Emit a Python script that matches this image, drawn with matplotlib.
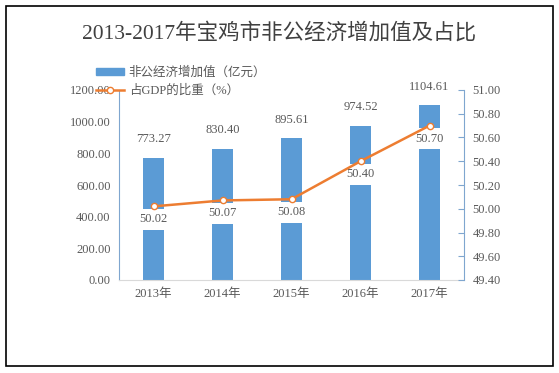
import matplotlib.pyplot as plt
from matplotlib.patches import Rectangle

years = ['2013年', '2014年', '2015年', '2016年', '2017年']
value_added = [773.27, 830.40, 895.61, 974.52, 1104.61]
gdp_share = [50.02, 50.07, 50.08, 50.40, 50.70]

fonts = ['Liberation Serif', 'Noto Sans CJK SC']
plt.rcParams['font.family'] = fonts

blue = '#5B9BD5'
orange = '#ED7D31'
grey = '#595959'

fig = plt.figure(figsize=(5.59, 3.73), dpi=100)
fig.patches.append(Rectangle((6 / 559, 7 / 373), 547 / 559, 360 / 373, transform=fig.transFigure,
                             fill=False, edgecolor='black', linewidth=1.2))

ax = fig.add_axes([119 / 559, 93 / 373, 345 / 559, 190 / 373])
x = range(len(years))
ax.bar(x, value_added, width=0.3, color=blue, zorder=1)
ax.set_ylim(0, 1200)
ax.set_yticks(range(0, 1201, 200))
ax.set_yticklabels(['%.2f' % v for v in range(0, 1201, 200)])
ax.set_xlim(-0.5, 4.5)
ax.set_xticks(list(x))
ax.set_xticklabels(years)
ax.tick_params(axis='both', length=0, labelsize=9, labelcolor=grey, pad=6)
for s in ['top', 'right']:
    ax.spines[s].set_visible(False)
ax.spines['left'].set_color('#7FA6CF')
ax.spines['bottom'].set_color('#D9D9D9')

for i, v in enumerate(value_added):
    ax.annotate('%.2f' % v, (i, v), xytext=(0, 9), textcoords='offset points',
                ha='center', va='bottom', fontsize=9, color=grey)

ax2 = ax.twinx()
ax2.plot(x, gdp_share, color=orange, linewidth=1.8, marker='o', markersize=4.5,
         markerfacecolor='white', markeredgecolor=orange, zorder=3)
ax2.set_ylim(49.4, 51.0)
ax2.set_yticks([49.4 + 0.2 * k for k in range(9)])
ax2.set_yticklabels(['%.2f' % (49.4 + 0.2 * k) for k in range(9)])
ax2.tick_params(axis='y', direction='in', length=4, color='#7FA6CF', labelsize=9, labelcolor=grey, pad=6)
for s in ['top', 'left', 'bottom']:
    ax2.spines[s].set_visible(False)
ax2.spines['right'].set_color('#7FA6CF')

for i, v in enumerate(gdp_share):
    ax2.annotate('%.2f' % v, (i, v), xytext=(0, -5), textcoords='offset points',
                 ha='center', va='top', fontsize=9, color=grey, zorder=2,
                 bbox=dict(boxstyle='square,pad=0.35', facecolor='white', edgecolor='none'))

fig.text(0.5, 0.91, '2013-2017年宝鸡市非公经济增加值及占比', ha='center', va='center',
         fontsize=15.5, color='#404040')

h1 = Rectangle((0, 0), 1, 1, color=blue)
h2, = ax2.plot([], [], color=orange, linewidth=1.8, marker='o', markersize=4.5,
               markerfacecolor='white', markeredgecolor=orange)
fig.legend([h1, h2], ['非公经济增加值（亿元）', '占GDP的比重（%）'], loc='upper left',
           bbox_to_anchor=(90 / 559, 1 - 60 / 373), frameon=False, fontsize=9,
           labelcolor=grey, handlelength=2.2, handleheight=0.5, labelspacing=0.45,
           handletextpad=0.4, borderpad=0)

fig.savefig('out.png', dpi=100)
